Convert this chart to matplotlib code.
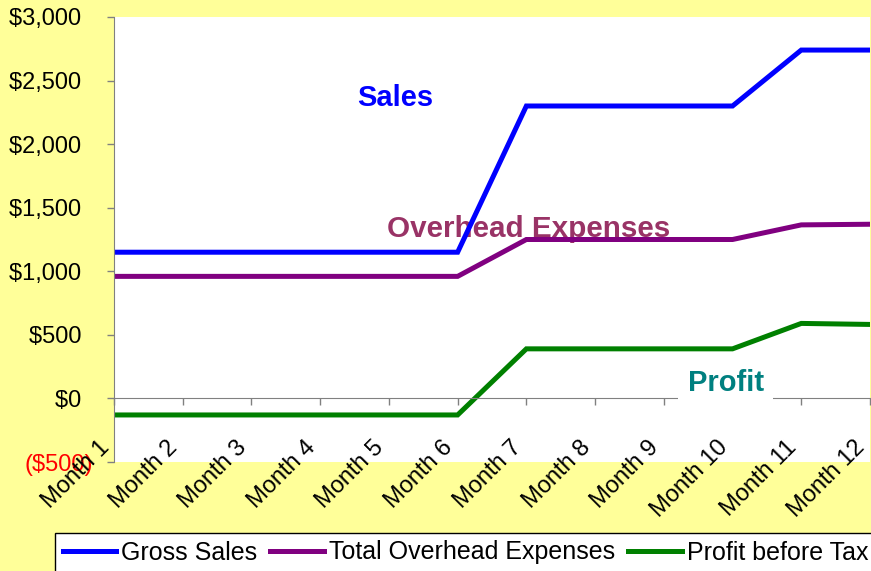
import numpy as np
import matplotlib.pyplot as plt
from matplotlib.transforms import ScaledTranslation
from matplotlib.lines import Line2D

plt.rcParams['font.family'] = ['Liberation Sans', 'DejaVu Sans']

months = ['Month 1', 'Month 2', 'Month 3', 'Month 4', 'Month 5', 'Month 6',
          'Month 7', 'Month 8', 'Month 9', 'Month 10', 'Month 11', 'Month 12']
gross_sales = [1150, 1150, 1150, 1150, 1150, 1150,
               2300, 2300, 2300, 2300, 2740, 2740]
overhead = [960, 960, 960, 960, 960, 960,
            1250, 1250, 1250, 1250, 1365, 1370]
profit = [-130, -130, -130, -130, -130, -130,
          390, 390, 390, 390, 590, 582]
yticks = [-500, 0, 500, 1000, 1500, 2000, 2500, 3000]

fig = plt.figure(figsize=(8.71, 5.71), dpi=100, facecolor='#FFFF99')
ax = fig.add_axes([114 / 871, 1 - 462 / 571, 756 / 871, 445 / 571])
ax.set_facecolor('white')

x = np.arange(len(months))
ax.plot(x, gross_sales, color='#0000FF', lw=3.6, solid_joinstyle='miter', zorder=2)
ax.plot(x, overhead, color='#800080', lw=3.6, solid_joinstyle='miter', zorder=2)
ax.plot(x, profit, color='#008000', lw=3.6, solid_joinstyle='miter', zorder=2)

ax.set_xlim(0, 11)
ax.set_ylim(-500, 3000)

for s in ['top', 'right']:
    ax.spines[s].set_visible(False)
ax.spines['left'].set_color('#808080')
ax.spines['bottom'].set_color('#808080')
ax.spines['bottom'].set_position(('data', 0))

# y axis labels, Excel style currency with red negatives
ax.set_yticks(yticks)
ylabels = [f'(${-v:,})' if v < 0 else f'${v:,}\u2002' for v in yticks]
ax.set_yticklabels(ylabels, fontsize=17)
ax.tick_params(axis='y', direction='out', length=5, width=1, color='#808080', pad=10)
for lab, v in zip(ax.get_yticklabels(), yticks):
    if v < 0:
        lab.set_color('red')

# x axis: ticks hanging from the zero line, rotated labels drawn as texts
ax.set_xticks(x)
ax.set_xticklabels([])
ax.tick_params(axis='x', direction='out', length=5, width=1, color='#808080')
off = ScaledTranslation(-16 / 100, -38 / 100, fig.dpi_scale_trans)
for i, m in enumerate(months):
    ax.text(i, 0, m, transform=ax.transData + off, rotation=45,
            rotation_mode='anchor', ha='right', va='top', fontsize=17,
            clip_on=False, zorder=4)

# series annotations
ax.text(4.09, 2302, 'Sales', color='#0000FF', fontsize=21, fontweight='bold',
        ha='center', va='baseline', zorder=3)
ax.text(6.03, 1273, 'Overhead Expenses', color='#993366', fontsize=21.3,
        fontweight='bold', ha='center', va='baseline', zorder=1.9)
ax.text(8.90, 55, 'Profit', color='#008080', fontsize=21, fontweight='bold',
        ha='center', va='baseline', zorder=3,
        bbox=dict(boxstyle='square,pad=0.33', fc='white', ec='none'))

handles = [Line2D([], [], color='#0000FF', lw=3.6),
           Line2D([], [], color='#800080', lw=3.6),
           Line2D([], [], color='#008000', lw=3.6)]
leg = fig.legend(handles, ['Gross Sales', 'Total Overhead Expenses', 'Profit before Tax'],
                 loc='upper left', bbox_to_anchor=(55 / 871, 1 - 533 / 571),
                 ncol=3, fontsize=18, frameon=True, fancybox=False,
                 edgecolor='black', framealpha=1, borderaxespad=0,
                 handlelength=2.15, handletextpad=0.2, columnspacing=0.52,
                 borderpad=0.3)
leg.get_frame().set_linewidth(1)

fig.savefig('out.png', dpi=100, facecolor=fig.get_facecolor())
